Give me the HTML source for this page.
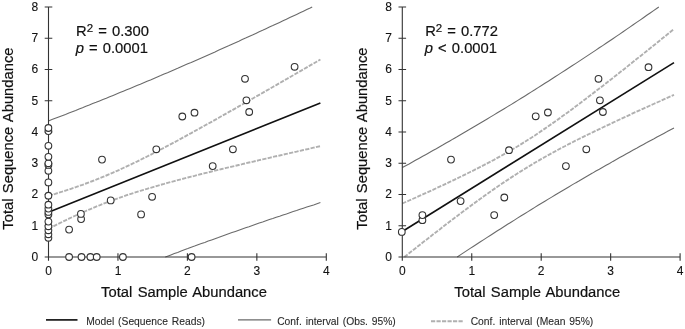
<!DOCTYPE html>
<html><head><meta charset="utf-8"><title>Regression plots</title>
<style>
html,body{margin:0;padding:0;background:#fff;}
svg{display:block;}
text{font-family:"Liberation Sans",Arial,sans-serif;fill:#111;stroke:#111;stroke-width:0.2;}
.tick{font-size:12px;stroke-width:0.1;}
.title{font-size:14.75px;word-spacing:1.3px;}
.ann{font-size:14.75px;word-spacing:1.0px;}
.leg{font-size:10.3px;word-spacing:1.0px;stroke-width:0.1;fill:#2a2a2a;stroke:#2a2a2a;}
.axis{stroke:#333;stroke-width:1.1;fill:none;}
.model{stroke:#111;stroke-width:1.65;fill:none;}
.obs{stroke:#6a6a6a;stroke-width:1.1;fill:none;}
.mean{stroke:#b0b0b0;stroke-width:1.9;fill:none;stroke-dasharray:4.2 1.3;}
circle{fill:#fff;stroke:#333;stroke-width:1.1;}
</style></head><body>
<svg width="685" height="329" viewBox="0 0 685 329">
<rect width="685" height="329" fill="#fff"/>
<path class="obs" d="M48.5 120.9L51.9 119.6L55.3 118.3L58.7 117.0L62.1 115.7L65.5 114.4L68.9 113.0L72.3 111.7L75.7 110.4L79.1 109.0L82.5 107.7L85.9 106.3L89.3 105.0L92.7 103.6L96.1 102.3L99.5 100.9L102.9 99.5L106.3 98.2L109.7 96.8L113.1 95.4L116.5 94.0L119.9 92.6L123.3 91.2L126.7 89.8L130.1 88.4L133.5 87.0L136.9 85.6L140.3 84.2L143.7 82.7L147.1 81.3L150.5 79.9L153.9 78.4L157.3 77.0L160.7 75.6L164.1 74.1L167.5 72.7L170.9 71.2L174.3 69.7L177.7 68.3L181.1 66.8L184.4 65.3L187.8 63.8L191.2 62.4L194.6 60.9L198.0 59.4L201.4 57.9L204.8 56.4L208.2 54.9L211.6 53.4L215.0 51.9L218.4 50.3L221.8 48.8L225.2 47.3L228.6 45.8L232.0 44.2L235.4 42.7L238.8 41.2L242.2 39.6L245.6 38.1L249.0 36.5L252.4 35.0L255.8 33.4L259.2 31.8L262.6 30.3L266.0 28.7L269.4 27.1L272.8 25.6L276.2 24.0L279.6 22.4L283.0 20.8L286.4 19.2L289.8 17.6L293.2 16.0L296.6 14.4L300.0 12.8L303.4 11.2L306.8 9.6L310.2 8.0L312.2 7.0"/>
<path class="obs" d="M165.3 257.0L167.5 256.2L170.9 254.9L174.3 253.6L177.7 252.4L181.1 251.1L184.4 249.8L187.8 248.6L191.2 247.3L194.6 246.1L198.0 244.8L201.4 243.6L204.8 242.4L208.2 241.1L211.6 239.9L215.0 238.7L218.4 237.5L221.8 236.2L225.2 235.0L228.6 233.8L232.0 232.6L235.4 231.4L238.8 230.2L242.2 229.0L245.6 227.8L249.0 226.7L252.4 225.5L255.8 224.3L259.2 223.1L262.6 222.0L266.0 220.8L269.4 219.6L272.8 218.5L276.2 217.3L279.6 216.2L283.0 215.0L286.4 213.9L289.8 212.7L293.2 211.6L296.6 210.5L300.0 209.3L303.4 208.2L306.8 207.1L310.2 206.0L313.6 204.9L317.0 203.7L320.4 202.6"/>
<path class="mean" d="M48.5 195.8L51.9 194.8L55.3 193.8L58.7 192.7L62.1 191.7L65.5 190.6L68.9 189.5L72.3 188.3L75.7 187.2L79.1 186.0L82.5 184.8L85.9 183.5L89.3 182.3L92.7 181.0L96.1 179.7L99.5 178.3L102.9 176.9L106.3 175.5L109.7 174.1L113.1 172.6L116.5 171.1L119.9 169.6L123.3 168.0L126.7 166.4L130.1 164.8L133.5 163.2L136.9 161.6L140.3 159.9L143.7 158.2L147.1 156.5L150.5 154.8L153.9 153.0L157.3 151.3L160.7 149.5L164.1 147.7L167.5 145.9L170.9 144.1L174.3 142.3L177.7 140.5L181.1 138.6L184.4 136.8L187.8 134.9L191.2 133.1L194.6 131.2L198.0 129.3L201.4 127.4L204.8 125.5L208.2 123.7L211.6 121.8L215.0 119.9L218.4 118.0L221.8 116.0L225.2 114.1L228.6 112.2L232.0 110.3L235.4 108.4L238.8 106.4L242.2 104.5L245.6 102.6L249.0 100.6L252.4 98.7L255.8 96.7L259.2 94.8L262.6 92.9L266.0 90.9L269.4 89.0L272.8 87.0L276.2 85.1L279.6 83.1L283.0 81.1L286.4 79.2L289.8 77.2L293.2 75.3L296.6 73.3L300.0 71.3L303.4 69.4L306.8 67.4L310.2 65.4L313.6 63.5L317.0 61.5L320.4 59.5"/>
<path class="mean" d="M48.5 228.8L51.9 227.1L55.3 225.3L58.7 223.7L62.1 222.0L65.5 220.3L68.9 218.7L72.3 217.1L75.7 215.5L79.1 214.0L82.5 212.5L85.9 211.0L89.3 209.5L92.7 208.1L96.1 206.6L99.5 205.3L102.9 203.9L106.3 202.6L109.7 201.3L113.1 200.0L116.5 198.8L119.9 197.6L123.3 196.4L126.7 195.2L130.1 194.1L133.5 193.0L136.9 191.9L140.3 190.8L143.7 189.8L147.1 188.8L150.5 187.8L153.9 186.8L157.3 185.8L160.7 184.8L164.1 183.9L167.5 182.9L170.9 182.0L174.3 181.1L177.7 180.2L181.1 179.3L184.4 178.4L187.8 177.5L191.2 176.6L194.6 175.8L198.0 174.9L201.4 174.0L204.8 173.2L208.2 172.4L211.6 171.5L215.0 170.7L218.4 169.9L221.8 169.0L225.2 168.2L228.6 167.4L232.0 166.6L235.4 165.8L238.8 165.0L242.2 164.2L245.6 163.3L249.0 162.5L252.4 161.8L255.8 161.0L259.2 160.2L262.6 159.4L266.0 158.6L269.4 157.8L272.8 157.0L276.2 156.2L279.6 155.5L283.0 154.7L286.4 153.9L289.8 153.1L293.2 152.3L296.6 151.6L300.0 150.8L303.4 150.0L306.8 149.3L310.2 148.5L313.6 147.7L317.0 146.9L320.4 146.2"/>
<path class="model" d="M48.5 212.3 L320.4 102.9"/>
<path class="axis" d="M48.50 7.0 V260.8M44.70 257.0 H326.30M44.70 225.75 h7.6M44.70 194.50 h7.6M44.70 163.25 h7.6M44.70 132.00 h7.6M44.70 100.75 h7.6M44.70 69.50 h7.6M44.70 38.25 h7.6M44.70 7.00 h7.6M117.95 253.2 v7.6M187.40 253.2 v7.6M256.85 253.2 v7.6M326.30 253.2 v7.6"/>
<text class="tick" text-anchor="end" x="38.2" y="260.9">0</text>
<text class="tick" text-anchor="end" x="38.2" y="229.7">1</text>
<text class="tick" text-anchor="end" x="38.2" y="198.4">2</text>
<text class="tick" text-anchor="end" x="38.2" y="167.2">3</text>
<text class="tick" text-anchor="end" x="38.2" y="135.9">4</text>
<text class="tick" text-anchor="end" x="38.2" y="104.7">5</text>
<text class="tick" text-anchor="end" x="38.2" y="73.4">6</text>
<text class="tick" text-anchor="end" x="38.2" y="42.1">7</text>
<text class="tick" text-anchor="end" x="38.2" y="10.9">8</text>
<text class="tick" text-anchor="middle" x="48.5" y="274.6">0</text>
<text class="tick" text-anchor="middle" x="118.0" y="274.6">1</text>
<text class="tick" text-anchor="middle" x="187.4" y="274.6">2</text>
<text class="tick" text-anchor="middle" x="256.9" y="274.6">3</text>
<text class="tick" text-anchor="middle" x="326.3" y="274.6">4</text>
<circle cx="48.4" cy="237.8" r="3.35"/>
<circle cx="48.4" cy="234.3" r="3.35"/>
<circle cx="48.4" cy="230.3" r="3.35"/>
<circle cx="69.1" cy="229.6" r="3.35"/>
<circle cx="48.4" cy="226.3" r="3.35"/>
<circle cx="48.4" cy="221.6" r="3.35"/>
<circle cx="81.1" cy="219.1" r="3.35"/>
<circle cx="48.4" cy="214.5" r="3.35"/>
<circle cx="141.1" cy="214.4" r="3.35"/>
<circle cx="80.9" cy="213.9" r="3.35"/>
<circle cx="48.4" cy="211.9" r="3.35"/>
<circle cx="48.4" cy="208.6" r="3.35"/>
<circle cx="48.4" cy="204.7" r="3.35"/>
<circle cx="110.7" cy="200.4" r="3.35"/>
<circle cx="152.1" cy="196.8" r="3.35"/>
<circle cx="48.4" cy="195.7" r="3.35"/>
<circle cx="48.4" cy="182.4" r="3.35"/>
<circle cx="48.4" cy="170.8" r="3.35"/>
<circle cx="212.7" cy="166.1" r="3.35"/>
<circle cx="48.4" cy="164.9" r="3.35"/>
<circle cx="48.4" cy="163.3" r="3.35"/>
<circle cx="102.0" cy="159.6" r="3.35"/>
<circle cx="48.4" cy="156.8" r="3.35"/>
<circle cx="156.3" cy="149.3" r="3.35"/>
<circle cx="232.9" cy="149.3" r="3.35"/>
<circle cx="48.4" cy="145.8" r="3.35"/>
<circle cx="48.4" cy="131.1" r="3.35"/>
<circle cx="48.4" cy="128.0" r="3.35"/>
<circle cx="182.3" cy="116.5" r="3.35"/>
<circle cx="194.5" cy="112.7" r="3.35"/>
<circle cx="249.2" cy="112.0" r="3.35"/>
<circle cx="246.4" cy="100.3" r="3.35"/>
<circle cx="245.0" cy="78.8" r="3.35"/>
<circle cx="294.6" cy="66.8" r="3.35"/>
<circle cx="69.1" cy="257.0" r="3.35"/>
<circle cx="81.5" cy="257.0" r="3.35"/>
<circle cx="90.4" cy="257.0" r="3.35"/>
<circle cx="96.7" cy="257.0" r="3.35"/>
<circle cx="122.9" cy="257.0" r="3.35"/>
<circle cx="191.6" cy="257.0" r="3.35"/>
<text class="title" x="101.1" y="297.2">Total Sample Abundance</text>
<text class="title" transform="translate(12.9 229.7) rotate(-90)">Total Sequence Abundance</text>
<text class="ann" x="76.1" y="35.9">R<tspan dy="-3.8" font-size="11.5">2</tspan><tspan dy="3.8"> = 0.300</tspan></text>
<text class="ann" x="75.7" y="52.7"><tspan font-style="italic">p</tspan> = 0.0001</text>
<path class="obs" d="M402.3 167.6L405.7 165.7L409.1 163.9L412.5 162.0L415.9 160.1L419.3 158.2L422.7 156.3L426.1 154.4L429.5 152.5L432.9 150.6L436.3 148.7L439.7 146.7L443.1 144.8L446.5 142.8L449.8 140.9L453.2 138.9L456.6 137.0L460.0 135.0L463.4 133.0L466.8 131.0L470.2 129.0L473.6 127.0L477.0 125.0L480.4 123.0L483.8 121.0L487.2 119.0L490.6 116.9L494.0 114.9L497.4 112.8L500.8 110.8L504.2 108.7L507.6 106.6L511.0 104.6L514.4 102.5L517.8 100.4L521.2 98.3L524.6 96.2L528.0 94.0L531.4 91.9L534.8 89.8L538.1 87.6L541.5 85.5L544.9 83.3L548.3 81.2L551.7 79.0L555.1 76.8L558.5 74.6L561.9 72.4L565.3 70.2L568.7 68.0L572.1 65.8L575.5 63.6L578.9 61.4L582.3 59.1L585.7 56.9L589.1 54.6L592.5 52.4L595.9 50.1L599.3 47.8L602.7 45.6L606.1 43.3L609.5 41.0L612.9 38.7L616.3 36.4L619.7 34.1L623.1 31.8L626.5 29.4L629.8 27.1L633.2 24.8L636.6 22.4L640.0 20.1L643.4 17.7L646.8 15.3L650.2 13.0L653.6 10.6L657.0 8.2L658.8 7.0"/>
<path class="obs" d="M457.2 257.0L460.0 255.1L463.4 252.9L466.8 250.6L470.2 248.4L473.6 246.2L477.0 244.0L480.4 241.8L483.8 239.6L487.2 237.4L490.6 235.2L494.0 233.0L497.4 230.8L500.8 228.7L504.2 226.5L507.6 224.3L511.0 222.2L514.4 220.1L517.8 217.9L521.2 215.8L524.6 213.7L528.0 211.6L531.4 209.5L534.8 207.4L538.1 205.3L541.5 203.3L544.9 201.2L548.3 199.1L551.7 197.1L555.1 195.0L558.5 193.0L561.9 191.0L565.3 189.0L568.7 187.0L572.1 184.9L575.5 182.9L578.9 181.0L582.3 179.0L585.7 177.0L589.1 175.0L592.5 173.1L595.9 171.1L599.3 169.2L602.7 167.2L606.1 165.3L609.5 163.4L612.9 161.4L616.3 159.5L619.7 157.6L623.1 155.7L626.5 153.8L629.8 151.9L633.2 150.0L636.6 148.2L640.0 146.3L643.4 144.4L646.8 142.6L650.2 140.7L653.6 138.9L657.0 137.0L660.4 135.2L663.8 133.4L667.2 131.6L670.6 129.7L674.0 127.9"/>
<path class="mean" d="M402.3 203.5L405.7 202.0L409.1 200.5L412.5 199.0L415.9 197.5L419.3 195.9L422.7 194.4L426.1 192.9L429.5 191.3L432.9 189.8L436.3 188.2L439.7 186.6L443.1 185.1L446.5 183.5L449.8 181.9L453.2 180.3L456.6 178.7L460.0 177.0L463.4 175.4L466.8 173.7L470.2 172.0L473.6 170.4L477.0 168.6L480.4 166.9L483.8 165.2L487.2 163.4L490.6 161.6L494.0 159.8L497.4 157.9L500.8 156.0L504.2 154.1L507.6 152.2L511.0 150.2L514.4 148.2L517.8 146.2L521.2 144.1L524.6 142.0L528.0 139.8L531.4 137.7L534.8 135.5L538.1 133.2L541.5 130.9L544.9 128.6L548.3 126.3L551.7 123.9L555.1 121.5L558.5 119.1L561.9 116.6L565.3 114.2L568.7 111.7L572.1 109.2L575.5 106.6L578.9 104.1L582.3 101.5L585.7 98.9L589.1 96.3L592.5 93.7L595.9 91.1L599.3 88.5L602.7 85.9L606.1 83.2L609.5 80.6L612.9 77.9L616.3 75.2L619.7 72.6L623.1 69.9L626.5 67.2L629.8 64.5L633.2 61.8L636.6 59.1L640.0 56.4L643.4 53.7L646.8 50.9L650.2 48.2L653.6 45.5L657.0 42.8L660.4 40.0L663.8 37.3L667.2 34.6L670.6 31.8L674.0 29.1"/>
<path class="mean" d="M404.3 257.0L405.7 255.9L409.1 253.2L412.5 250.5L415.9 247.9L419.3 245.2L422.7 242.5L426.1 239.9L429.5 237.3L432.9 234.6L436.3 232.0L439.7 229.4L443.1 226.7L446.5 224.1L449.8 221.5L453.2 219.0L456.6 216.4L460.0 213.8L463.4 211.3L466.8 208.7L470.2 206.2L473.6 203.7L477.0 201.2L480.4 198.8L483.8 196.3L487.2 193.9L490.6 191.5L494.0 189.1L497.4 186.8L500.8 184.4L504.2 182.1L507.6 179.9L511.0 177.6L514.4 175.4L517.8 173.2L521.2 171.1L524.6 169.0L528.0 166.9L531.4 164.9L534.8 162.8L538.1 160.9L541.5 158.9L544.9 157.0L548.3 155.1L551.7 153.2L555.1 151.4L558.5 149.5L561.9 147.7L565.3 146.0L568.7 144.2L572.1 142.5L575.5 140.7L578.9 139.0L582.3 137.3L585.7 135.7L589.1 134.0L592.5 132.4L595.9 130.7L599.3 129.1L602.7 127.5L606.1 125.9L609.5 124.3L612.9 122.7L616.3 121.1L619.7 119.5L623.1 117.9L626.5 116.4L629.8 114.8L633.2 113.2L636.6 111.7L640.0 110.2L643.4 108.6L646.8 107.1L650.2 105.5L653.6 104.0L657.0 102.5L660.4 101.0L663.8 99.4L667.2 97.9L670.6 96.4L674.0 94.9"/>
<path class="model" d="M402.3 231.5 L674.0 62.6"/>
<path class="axis" d="M402.30 7.0 V260.8M398.50 257.0 H680.10M398.50 225.75 h7.6M398.50 194.50 h7.6M398.50 163.25 h7.6M398.50 132.00 h7.6M398.50 100.75 h7.6M398.50 69.50 h7.6M398.50 38.25 h7.6M398.50 7.00 h7.6M471.75 253.2 v7.6M541.20 253.2 v7.6M610.65 253.2 v7.6M680.10 253.2 v7.6"/>
<text class="tick" text-anchor="end" x="392.0" y="260.9">0</text>
<text class="tick" text-anchor="end" x="392.0" y="229.7">1</text>
<text class="tick" text-anchor="end" x="392.0" y="198.4">2</text>
<text class="tick" text-anchor="end" x="392.0" y="167.2">3</text>
<text class="tick" text-anchor="end" x="392.0" y="135.9">4</text>
<text class="tick" text-anchor="end" x="392.0" y="104.7">5</text>
<text class="tick" text-anchor="end" x="392.0" y="73.4">6</text>
<text class="tick" text-anchor="end" x="392.0" y="42.1">7</text>
<text class="tick" text-anchor="end" x="392.0" y="10.9">8</text>
<text class="tick" text-anchor="middle" x="402.3" y="274.6">0</text>
<text class="tick" text-anchor="middle" x="471.8" y="274.6">1</text>
<text class="tick" text-anchor="middle" x="541.2" y="274.6">2</text>
<text class="tick" text-anchor="middle" x="610.7" y="274.6">3</text>
<text class="tick" text-anchor="middle" x="680.1" y="274.6">4</text>
<circle cx="401.8" cy="231.9" r="3.35"/>
<circle cx="422.4" cy="220.2" r="3.35"/>
<circle cx="422.4" cy="215.1" r="3.35"/>
<circle cx="494.2" cy="215.1" r="3.35"/>
<circle cx="460.6" cy="201.1" r="3.35"/>
<circle cx="504.3" cy="197.5" r="3.35"/>
<circle cx="565.9" cy="166.1" r="3.35"/>
<circle cx="451.0" cy="159.6" r="3.35"/>
<circle cx="509.0" cy="150.2" r="3.35"/>
<circle cx="586.3" cy="149.3" r="3.35"/>
<circle cx="535.7" cy="116.3" r="3.35"/>
<circle cx="547.9" cy="112.5" r="3.35"/>
<circle cx="602.9" cy="112.0" r="3.35"/>
<circle cx="599.9" cy="100.3" r="3.35"/>
<circle cx="598.5" cy="78.8" r="3.35"/>
<circle cx="648.5" cy="67.2" r="3.35"/>
<text class="title" x="454.3" y="297.2">Total Sample Abundance</text>
<text class="title" transform="translate(366.7 229.7) rotate(-90)">Total Sequence Abundance</text>
<text class="ann" x="425.2" y="35.9">R<tspan dy="-3.8" font-size="11.5">2</tspan><tspan dy="3.8"> = 0.772</tspan></text>
<text class="ann" x="424.8" y="52.7"><tspan font-style="italic">p</tspan> &lt; 0.0001</text>

<path class="model" d="M46 319.9H77.5"/>
<text class="leg" x="86.2" y="324.8">Model (Sequence Reads)</text>
<path class="obs" d="M238 319.9H271.1"/>
<text class="leg" x="277.2" y="324.8">Conf. interval (Obs. 95%)</text>
<path class="mean" d="M431 321.2H464"/>
<text class="leg" x="470.7" y="324.8">Conf. interval (Mean 95%)</text>

</svg>
</body></html>
